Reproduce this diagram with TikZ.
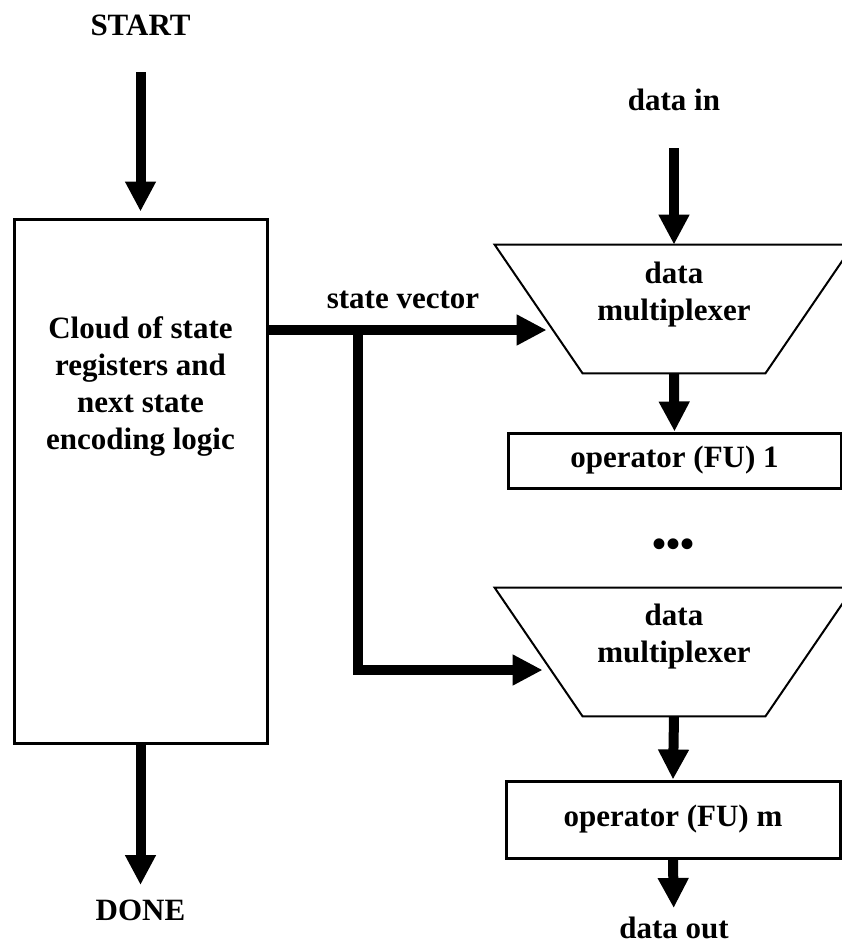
\documentclass[tikz,border=0pt]{standalone}
\usepackage{fontspec}
\setmainfont{Liberation Serif}
\usetikzlibrary{arrows.meta}

\begin{document}
\begin{tikzpicture}[x=0.5pt, y=-0.5pt,
    every node/.style={font=\fontsize{15.5}{18.5}\selectfont\bfseries, align=center},
    block/.style={draw, line width=1.5pt, inner sep=0pt},
    mux/.style={inner sep=0pt, minimum width=179pt, minimum height=64pt},
    flow/.style={line width=5pt, -{Triangle[width=14.5pt, length=15pt]}}]
    \clip (0,0) rectangle (842,944);

    \node (start) at (140.5,25) {START};
    \node [block, minimum width=126.5pt, minimum height=262pt] (cloud) at (140.5,481) {};
    \node (cloudtxt) at (140.5,386) {Cloud of state\\registers and\\next state\\encoding logic};
    \node (done) at (140.5,910) {DONE};

    \node (datain) at (674,100) {data in};
    \node [mux] (mux1) at (674,309) {};
    \node (mux1txt) at (674,295) {data\\multiplexer};
    \node [block, minimum width=166.5pt, minimum height=27.5pt] (op1) at (674.5,460.5) {operator (FU) 1};
    \node (dots) at (674,548) {\fontsize{20}{24}\selectfont\textbullet\textbullet\textbullet};
    \node [mux] (mux2) at (674,652) {};
    \node (mux2txt) at (674,636.5) {data\\multiplexer};
    \node [block, minimum width=167pt, minimum height=38.5pt] (opm) at (673,819.5) {operator (FU) m};
    \node (dataout) at (674,928) {data out};

    \node (svlabel) at (403,300) {state vector};
    \coordinate (branch) at (358,330);

    % trapezium outlines of the two multiplexers
    \draw [line width=1pt] (mux1.north west) -- (mux1.north east) -- ([xshift=-44pt]mux1.south east) -- ([xshift=44pt]mux1.south west) -- cycle;
    \draw [line width=1pt] (mux2.north west) -- (mux2.north east) -- ([xshift=-44pt]mux2.south east) -- ([xshift=44pt]mux2.south west) -- cycle;

    \draw [flow, shorten <=23.5pt, shorten >=3pt] (start.center) -- (cloud.north);
    \draw [flow, shorten >=12.5pt] (cloud.south) -- (done.center);
    \draw [flow, shorten <=24pt] (datain.center) -- (mux1.north);
    \draw [flow] (cloud.east |- branch) -- ([xshift=26pt]mux1.west |- branch);
    \draw [flow] (branch) |- ([xshift=24pt, yshift=-9pt]mux2.west);
    \draw [flow] (mux1.south) -- (op1.north);
    \draw [flow] (mux2.south) -- (opm.north);
    \draw [flow, shorten >=10pt] (opm.south) -- (dataout.center);
\end{tikzpicture}
\end{document}
